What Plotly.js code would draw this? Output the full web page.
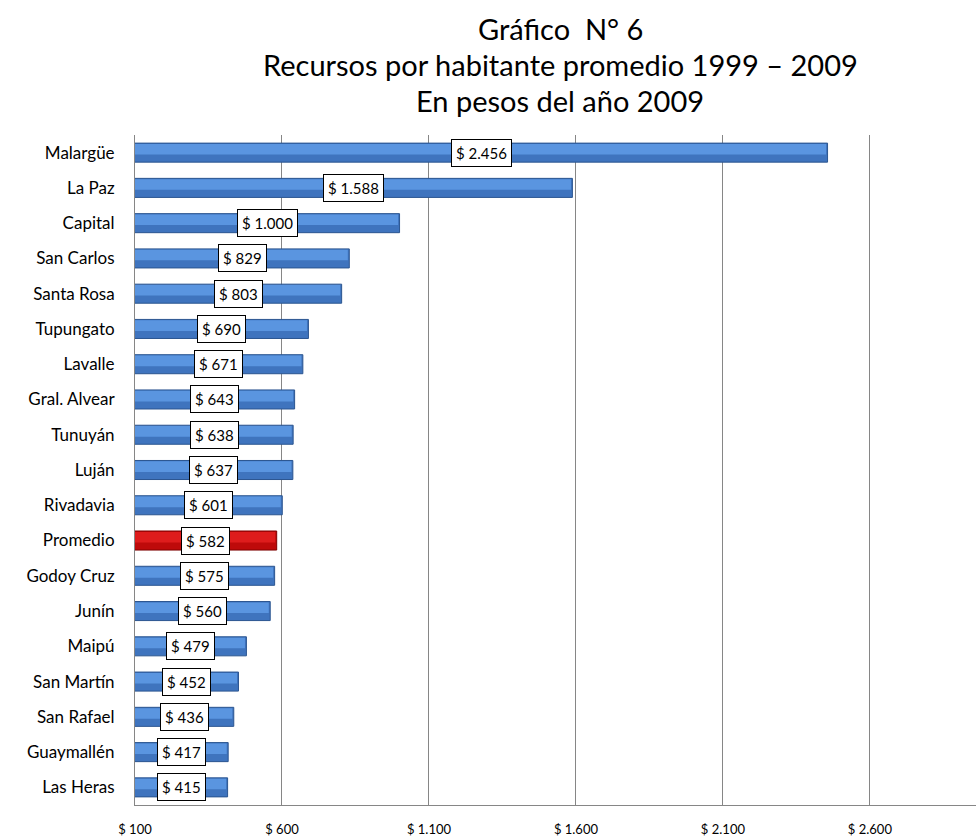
<!DOCTYPE html>
<html>
<head>
<meta charset="utf-8">
<script src="https://cdn.plot.ly/plotly-3.0.1.min.js"></script>
<style>html,body{margin:0;padding:0;background:#fff;}#chart{width:976px;height:839px;}</style>
</head>
<body>
<div id="chart"></div>
<script>
const categories = ["Malargüe","La Paz","Capital","San Carlos","Santa Rosa","Tupungato","Lavalle","Gral. Alvear","Tunuyán","Luján","Rivadavia","Promedio","Godoy Cruz","Junín","Maipú","San Martín","San Rafael","Guaymallén","Las Heras"];
const values = [2456,1588,1000,829,803,690,671,643,638,637,601,582,575,560,479,452,436,417,415];
const tickValues = [100,600,1100,1600,2100,2600];
const axisStart = 100;
const titleLines = ["Gráfico  N° 6","Recursos por habitante promedio 1999 – 2009","En pesos del año 2009"];

function fmt(v){ return "$ " + String(v).replace(/\B(?=(\d{3})+(?!\d))/g, "."); }

const isAvg = categories.map(c => c === "Promedio");
const baseColors = isAvg.map(a => a ? "#BE0A0A" : "#3F74BE");
const lineColors = isAvg.map(a => a ? "#7E0000" : "#2B5590");
const lightColors = isAvg.map(a => a ? "#DE1C1C" : "#5A95E0");

const baseTrace = {
  type: "bar", orientation: "h",
  y: categories, x: values,
  width: 0.54, offset: -0.27,
  marker: {color: baseColors, line: {color: lineColors, width: 1}},
  hoverinfo: "none"
};
const shineTrace = {
  type: "bar", orientation: "h",
  y: categories, x: values.map(v => v - 5),
  width: 0.3, offset: -0.245,
  marker: {color: lightColors, line: {width: 0}},
  hoverinfo: "none"
};

const annotations = values.map((v, i) => ({
  x: (axisStart + v) / 2,
  y: categories[i],
  xref: "x", yref: "y",
  text: fmt(v),
  showarrow: false,
  bgcolor: "#ffffff",
  bordercolor: "#000000",
  borderwidth: 1,
  borderpad: 4,
  font: {family: "Lato, sans-serif", size: 15, color: "#000"}
}));

const titleY = [1.1597, 1.1045, 1.0522];
titleLines.forEach((t, i) => annotations.push({
  x: 0.5054, y: titleY[i], xref: "paper", yref: "paper",
  xanchor: "center", yanchor: "middle",
  text: t, showarrow: false,
  font: {family: "Lato, sans-serif", size: 29, color: "#000"}
}));

const layout = {
  width: 976, height: 839,
  margin: {l: 135, r: 0, t: 135, b: 34},
  paper_bgcolor: "#fff", plot_bgcolor: "#fff",
  separators: ",.",
  showlegend: false,
  barmode: "overlay",
  xaxis: {
    range: [axisStart, 2961],
    tickvals: tickValues,
    ticktext: tickValues.map(fmt),
    showgrid: true, gridcolor: "#868686", gridwidth: 1,
    zeroline: false,
    showline: true, linecolor: "#868686", linewidth: 1,
    ticks: "",
    ticklabelstandoff: 12,
    tickfont: {family: "Lato, sans-serif", size: 13, color: "#000"},
    fixedrange: true
  },
  yaxis: {
    autorange: "reversed",
    showline: true, linecolor: "#868686", linewidth: 1,
    showgrid: false, zeroline: false,
    ticks: "",
    ticklabelstandoff: 16,
    tickfont: {family: "Lato, sans-serif", size: 17, color: "#000"},
    fixedrange: true
  },
  annotations: annotations
};

Plotly.newPlot("chart", [baseTrace, shineTrace], layout, {displayModeBar: false, staticPlot: true});
</script>
</body>
</html>
